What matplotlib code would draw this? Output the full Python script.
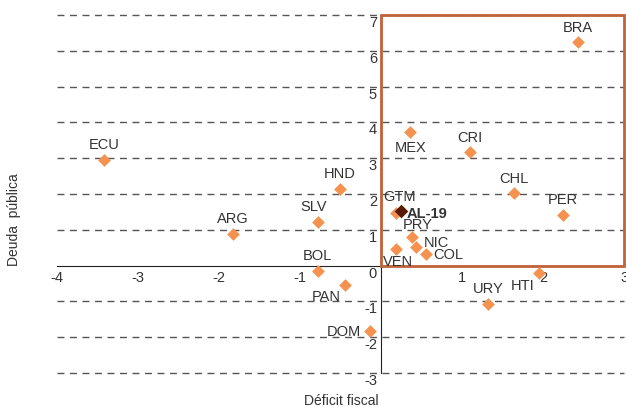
import matplotlib
matplotlib.use("Agg")
import matplotlib.pyplot as plt
from matplotlib.patches import Rectangle

plt.rcParams['font.family'] = ['Liberation Sans', 'DejaVu Sans']
plt.rcParams['axes.unicode_minus'] = False

# Datos: déficit fiscal (x) y deuda pública (y)
paises = ["ECU", "ARG", "SLV", "HND", "BOL", "PAN", "DOM", "GTM", "PRY", "NIC",
          "VEN", "COL", "URY", "HTI", "PER", "CHL", "CRI", "MEX", "BRA"]
deficit = [-3.42, -1.83, -0.78, -0.51, -0.78, -0.44, -0.14, 0.18, 0.38, 0.43,
           0.19, 0.56, 1.32, 1.95, 2.24, 1.64, 1.10, 0.36, 2.43]
deuda = [2.96, 0.89, 1.23, 2.15, -0.14, -0.53, -1.82, 1.48, 0.81, 0.53,
         0.47, 0.31, -1.06, -0.22, 1.42, 2.03, 3.16, 3.74, 6.23]
al19_x, al19_y = 0.25, 1.51

# posición de cada etiqueta respecto al punto (puntos, ha, va)
offsets = {
    "ECU": (0, 6, 'center', 'bottom'), "ARG": (0, 6, 'center', 'bottom'),
    "SLV": (-3, 6, 'center', 'bottom'), "HND": (0, 6, 'center', 'bottom'),
    "BOL": (0, 6, 'center', 'bottom'), "PAN": (-14, -3, 'center', 'top'),
    "DOM": (-6, 0, 'right', 'center'), "GTM": (3, 7, 'center', 'bottom'),
    "PRY": (4, 4, 'center', 'bottom'), "NIC": (6, 3, 'left', 'center'),
    "VEN": (1, -4, 'center', 'top'), "COL": (5, 0, 'left', 'center'),
    "URY": (0, 6, 'center', 'bottom'), "HTI": (-3, -3, 'right', 'top'),
    "PER": (0, 6, 'center', 'bottom'), "CHL": (0, 6, 'center', 'bottom'),
    "CRI": (0, 6, 'center', 'bottom'), "MEX": (0, -6, 'center', 'top'),
    "BRA": (0, 6, 'center', 'bottom'),
}

naranja = "#F5924F"
caja = "#C0623A"
texto = "#333333"

fig = plt.figure(figsize=(6.26, 4.14), dpi=100)
ax = fig.add_axes([0.091, 0.0966, 0.906, 0.865])

ax.set_xlim(-4, 3)
ax.set_ylim(-3, 7)
ax.set_yticks(range(-3, 8))
ax.set_xticks([-4, -3, -2, -1, 1, 2, 3])

# lineas horizontales punteadas
for y in range(-3, 8):
    if y != 0:
        ax.axhline(y, color="#555555", lw=1.0, ls=(0, (5, 4)), zorder=1,
                   clip_on=False)

ax.spines['left'].set_position(('data', 0))
ax.spines['bottom'].set_position(('data', 0))
ax.spines['top'].set_visible(False)
ax.spines['right'].set_visible(False)
ax.spines['left'].set_color("#222222")
ax.spines['bottom'].set_color("#222222")
ax.tick_params(axis='both', length=0, labelsize=10.5, labelcolor=texto)
ax.tick_params(axis='x', pad=3)
ax.tick_params(axis='y', pad=3)
for lab in ax.get_yticklabels():
    lab.set_va('top')

# cuadro del primer cuadrante
ax.add_patch(Rectangle((0, 0), 3, 7, fill=False, edgecolor=caja, lw=2.0,
                       zorder=4, clip_on=False))

ax.scatter(deficit, deuda, marker='D', s=42, color=naranja, zorder=5,
           linewidths=0, clip_on=False)
ax.scatter([al19_x], [al19_y], marker='D', s=48, color="#5A1A08", zorder=6,
           linewidths=0)

for p, x, y in zip(paises, deficit, deuda):
    dx, dy, ha, va = offsets[p]
    ax.annotate(p, (x, y), xytext=(dx, dy), textcoords='offset points',
                ha=ha, va=va, fontsize=10.5, color=texto, zorder=7)
ax.annotate("AL-19", (al19_x, al19_y), xytext=(4, -1), textcoords='offset points',
            ha='left', va='center', fontsize=10.5, fontweight='bold',
            color=texto, zorder=7)

fig.text(0.022, 0.47, "Deuda  pública", rotation=90, ha='center', va='center',
         fontsize=10, color=texto)
fig.text(0.545, 0.015, "Déficit fiscal", ha='center', va='bottom',
         fontsize=10, color=texto)

fig.savefig("out.png", dpi=100)
